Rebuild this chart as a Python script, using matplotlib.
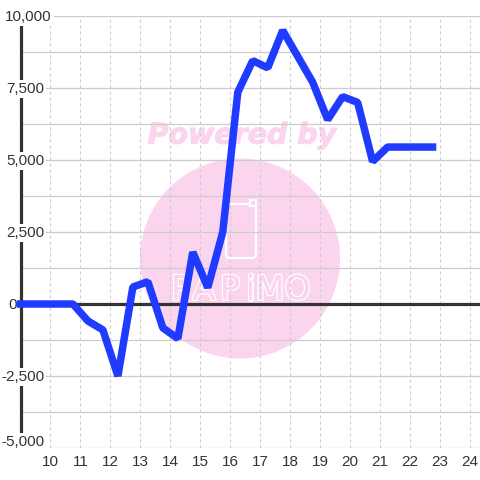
import matplotlib
matplotlib.use('Agg')
import matplotlib.pyplot as plt
import matplotlib.patheffects as pe
from matplotlib.patches import Circle, FancyBboxPatch, Rectangle

plt.rcParams['font.family'] = ['Liberation Sans', 'DejaVu Sans']

# half-hour offset readings
hours = [9, 9.75, 10.25, 10.75, 11.25, 11.75, 12.25, 12.75, 13.25, 13.75, 14.25, 14.75,
         15.25, 15.75, 16.25, 16.75, 17.25, 17.75, 18.25, 18.75, 19.25, 19.75, 20.25,
         20.75, 21.25, 21.75, 22.25, 22.75]
values = [0, 0, 0, 0, -590, -900, -2500, 590, 775, -830, -1200, 1800,
          570, 2500, 7350, 8450, 8200, 9500, 8600, 7700, 6400, 7200, 7000,
          4950, 5450, 5450, 5450, 5450]

x_ticks = list(range(10, 25))
y_ticks = [-5000, -3750, -2500, -1250, 0, 1250, 2500, 3750, 5000, 6250, 7500, 8750, 10000]
y_labels = {10000: '10,000', 7500: '7,500', 5000: '5,000', 2500: '2,500',
            0: '0', -2500: '-2,500', -5000: '-5,000'}
logo_letters = ['P', 'A', 'P', 'i', 'M', 'O']
logo_x = [181, 204, 230, 250, 270, 297.5]

TEXT = '#333333'
GRID = '#cccccc'
PINK = '#fbd5ee'
BLUE = '#1f3bff'

fig = plt.figure(figsize=(4.8, 4.8), dpi=100)

# watermark sits behind the chart, in pixel coordinates
bg = fig.add_axes([0, 0, 1, 1], zorder=0)
bg.set_xlim(0, 480)
bg.set_ylim(480, 0)
bg.axis('off')
bg.add_patch(Circle((240, 258.5), 100, color=PINK, lw=0))
bg.text(242, 135.5, 'Powered by', color=PINK, fontsize=20.5, fontweight='bold', style='italic',
        family='DejaVu Sans', ha='center', va='center',
        path_effects=[pe.withStroke(linewidth=0.8, foreground=PINK)])
bg.add_patch(FancyBboxPatch((226, 204), 30, 54, boxstyle='round,pad=0,rounding_size=4',
                            fc='none', ec='white', lw=1.6))
bg.add_patch(Rectangle((250, 200), 6, 6, fc=PINK, ec='white', lw=1.4))
for letter, lx in zip(logo_letters, logo_x):
    bg.text(lx, 290, letter, color=PINK, fontsize=24, family='DejaVu Sans', ha='center', va='center',
            path_effects=[pe.withStroke(linewidth=2, foreground='white'), pe.Normal()])

left = 20.5 / 480
bottom = (480 - 448) / 480
ax = fig.add_axes([left, bottom, 1 - left, (448 - 16) / 480], zorder=1)
ax.patch.set_alpha(0)
ax.set_xlim(9, 24 + 1 / 3)
ax.set_ylim(-5000, 10000)
for s in ['top', 'right', 'bottom']:
    ax.spines[s].set_visible(False)
ax.spines['left'].set_linewidth(2.3)
ax.spines['left'].set_color(TEXT)
ax.spines['left'].set_zorder(2)

ax.set_xticks(x_ticks)
ax.set_yticks(y_ticks)
ax.set_yticklabels([])
ax.tick_params(length=0, pad=5)
ax.tick_params(axis='x', labelsize=11, labelcolor=TEXT)
ax.grid(axis='y', color=GRID, lw=0.9, zorder=1)
ax.grid(axis='x', color=GRID, lw=0.8, ls=(0, (2.7, 2.7)), zorder=1)
ax.set_axisbelow(True)

ax.axhline(0, color=TEXT, lw=2.3, zorder=3)
ax.plot(hours, values, color=BLUE, lw=5.4, solid_joinstyle='bevel', solid_capstyle='projecting',
        clip_on=False, zorder=5)

# y labels sit inside the plot on white boxes, cutting the axis line
for val, txt in y_labels.items():
    dx = 16.5 - 20.5 if val == 0 else (51.5 if val == 10000 else 44) - 20.5
    dy = 6 if val == -5000 else -1
    ax.annotate(txt, xy=(0, val), xycoords=ax.get_yaxis_transform(), xytext=(dx, dy),
                textcoords='offset pixels', ha='right', va='center', fontsize=11, color=TEXT,
                bbox=dict(fc='white', ec='none', pad=1.5), zorder=4, annotation_clip=False)

fig.savefig('out.png', dpi=100)
